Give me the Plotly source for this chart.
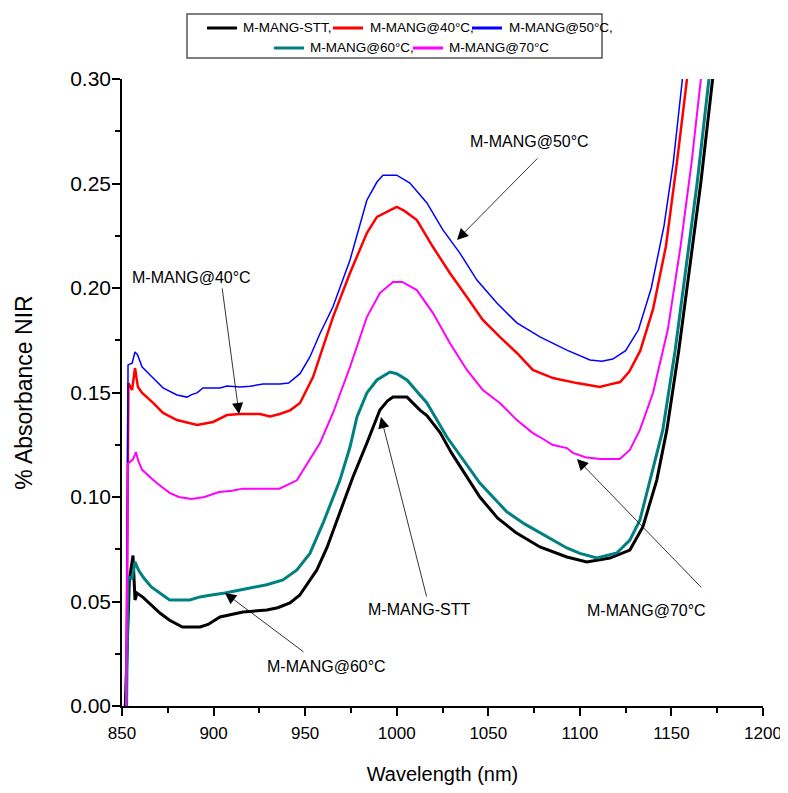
import plotly.graph_objects as go

# ---------------- data ----------------
stt_x = [851.8, 854, 856, 857.1, 858.2, 861.5, 870.7, 876, 883, 892.6, 897, 903.5, 916, 929.1, 935, 941.7,
         947, 952.6, 956.4, 962, 969, 976.1, 983.7, 990.8, 995, 998, 1005.6, 1012.7, 1016.5, 1023.6, 1030,
         1038.3, 1045.4, 1055, 1065, 1078.2, 1092.9, 1103.8, 1116.4, 1127.3, 1134.4, 1142, 1147.5, 1154,
         1160, 1166, 1172.5, 1174]
stt_y = [0.0, 0.060, 0.072, 0.0507, 0.054, 0.052, 0.0445, 0.041, 0.0378, 0.0378, 0.039, 0.0426, 0.045, 0.0459,
         0.047, 0.0493, 0.053, 0.0603, 0.0651, 0.076, 0.0928, 0.1096, 0.1258, 0.1416, 0.146, 0.1478, 0.1478,
         0.1416, 0.139, 0.131, 0.121, 0.1096, 0.100, 0.090, 0.083, 0.0761, 0.0713, 0.0689, 0.0708, 0.0746,
         0.0857, 0.1081, 0.1321, 0.17, 0.21, 0.25, 0.30, 0.315]

c40_x = [852.3, 853.5, 855.5, 857.1, 858.7, 861, 867, 872.4, 880, 891, 899.7, 907.3, 914.4, 925.3, 930.8,
         936.2, 942, 947.2, 954.3, 965.2, 974.5, 983.7, 989.2, 1000, 1004, 1011, 1019.8, 1029, 1038.3, 1047,
         1056.3, 1065.6, 1074.3, 1085.3, 1098.4, 1110.9, 1117, 1122, 1127, 1133, 1140, 1147, 1153, 1158.5, 1160]
c40_y = [0.0, 0.1545, 0.1512, 0.1617, 0.1526, 0.1498, 0.145, 0.1402, 0.1368, 0.1345, 0.1359, 0.1392, 0.1397,
         0.1397, 0.1385, 0.1397, 0.1416, 0.145, 0.1574, 0.1861, 0.2072, 0.2263, 0.234, 0.2388, 0.237, 0.2325,
         0.2196, 0.2072, 0.1957, 0.1847, 0.1766, 0.1689, 0.1608, 0.1569, 0.1545, 0.1526, 0.154, 0.155, 0.16,
         0.17, 0.19, 0.22, 0.26, 0.30, 0.32]

c50_x = [852.3, 853.3, 855.5, 857.1, 858.5, 861, 867, 872.4, 880, 885.5, 888, 891, 894.2, 903.5, 907.3, 914.4,
         920, 927, 936.2, 941, 947.2, 952.6, 958, 965.2, 974.5, 983.7, 989.2, 992.5, 1000, 1007.2, 1016.5,
         1025.2, 1034.5, 1043.8, 1054.7, 1065.6, 1078.2, 1092.9, 1105.5, 1112, 1118, 1125, 1132, 1139, 1146,
         1151, 1156, 1158]
c50_y = [0.0, 0.1632, 0.164, 0.1694, 0.168, 0.1622, 0.1569, 0.1522, 0.1488, 0.1478, 0.149, 0.1498, 0.1522,
         0.1522, 0.1531, 0.1526, 0.153, 0.1541, 0.1541, 0.1545, 0.159, 0.167, 0.178, 0.191, 0.2134, 0.242,
         0.2507, 0.254, 0.254, 0.2502, 0.2407, 0.2278, 0.2167, 0.2038, 0.1928, 0.1833, 0.1766, 0.1703, 0.1656,
         0.165, 0.166, 0.17, 0.18, 0.20, 0.23, 0.26, 0.30, 0.32]

c60_x = [852.5, 853.3, 855.5, 857.1, 859, 861.5, 866, 870.7, 876, 887, 892.6, 898, 906.2, 919.9, 929, 937.9,
         945.5, 952.6, 960, 969, 974.5, 978.3, 983.7, 989.2, 996.3, 1000, 1005.6, 1016.5, 1027.4, 1045.4, 1060,
         1070, 1078.2, 1092.9, 1100, 1109.3, 1120.2, 1127.3, 1132.8, 1138.2, 1145.3, 1152, 1158, 1164, 1170.5,
         1172]
c60_y = [0.0, 0.0617, 0.061, 0.069, 0.065, 0.0617, 0.057, 0.054, 0.0507, 0.0507, 0.0522, 0.053, 0.0541,
         0.0565, 0.058, 0.0603, 0.0651, 0.073, 0.088, 0.1081, 0.1239, 0.1383, 0.1498, 0.156, 0.1598, 0.159,
         0.156, 0.145, 0.1287, 0.1067, 0.093, 0.087, 0.0828, 0.0756, 0.073, 0.0708, 0.0732, 0.0794, 0.089,
         0.1081, 0.1321, 0.17, 0.21, 0.25, 0.30, 0.315]

c70_x = [852.2, 853.3, 856, 857.6, 859, 861, 866, 870, 876, 881, 888, 895, 903, 910, 916, 936, 945.5, 952.6,
         958.1, 965.2, 974.5, 983.7, 990.8, 998, 1003, 1011, 1019.8, 1029, 1038.3, 1047, 1056.3, 1065.6,
         1074.3, 1078.2, 1085, 1092.9, 1096.2, 1103, 1110.9, 1121.8, 1127.3, 1132.8, 1140, 1148, 1155, 1161,
         1166.5, 1168]
c70_y = [0.0, 0.116, 0.118, 0.1215, 0.117, 0.113, 0.109, 0.106, 0.102, 0.100, 0.099, 0.100, 0.1024, 0.103,
         0.104, 0.104, 0.108, 0.1177, 0.1258, 0.1402, 0.1622, 0.1861, 0.1976, 0.2029, 0.2029, 0.199, 0.188,
         0.1737, 0.1608, 0.1512, 0.145, 0.1368, 0.1306, 0.1287, 0.125, 0.1234, 0.1211, 0.119, 0.1182, 0.1182,
         0.1225, 0.1321, 0.15, 0.18, 0.22, 0.26, 0.30, 0.315]

series_names = ["M-MANG-STT", "M-MANG@40°C", "M-MANG@50°C", "M-MANG@60°C", "M-MANG@70°C"]
legend_labels = ["M-MANG-STT,", "M-MANG@40°C,", "M-MANG@50°C,", "M-MANG@60°C,", "M-MANG@70°C"]
x_ticks = [850, 900, 950, 1000, 1050, 1100, 1150, 1200]
y_ticks = [0.00, 0.05, 0.10, 0.15, 0.20, 0.25, 0.30]
y_tick_text = ["0.00", "0.05", "0.10", "0.15", "0.20", "0.25", "0.30"]

# callouts: (text, text_x, text_y, arrow_tail_x, arrow_tail_y, arrow_head_x, arrow_head_y)
callouts = [
    ("M-MANG-STT", 1012, 0.0464, 1016.5, 0.0517, 991.4, 0.1383),
    ("M-MANG@50°C", 1072.7, 0.2699, 1077.6, 0.2627, 1032.9, 0.223),
    ("M-MANG@40°C", 887.7, 0.2048, 904.6, 0.2005, 913.9, 0.1397),
    ("M-MANG@70°C", 1136.6, 0.0459, 1167.1, 0.056, 1098.4, 0.1182),
    ("M-MANG@60°C", 961.4, 0.0187, 949.9, 0.0254, 906.2, 0.0541),
]

# ---------------- styling ----------------
colors = ["#000000", "#FF0000", "#0000FF", "#008080", "#FF00FF"]
widths = [3, 2.5, 1.5, 3, 2]
SANS = "Liberation Sans, Arial, sans-serif"

OFF = 8  # default body margin of the page
W, H = 788 - OFF, 793 - 2 * OFF   # keep the page from overflowing the window
ML, MT = 122 - OFF, 79 - OFF
MR, MB = W - (763 - OFF), H - (706 - OFF)
PW, PH = W - ML - MR, H - MT - MB


def pxx(xp):
    return (xp - OFF - ML) / PW


def pxy(yp):
    return (H - MB - (yp - OFF)) / PH


fig = go.Figure()
xs = [stt_x, c40_x, c50_x, c60_x, c70_x]
ys = [stt_y, c40_y, c50_y, c60_y, c70_y]
for name, x, y, c, w in zip(series_names, xs, ys, colors, widths):
    fig.add_trace(go.Scatter(x=x, y=y, mode="lines", name=name,
                             line=dict(color=c, width=w), showlegend=False))

annotations = []
for text, tx, ty, ax, ay, hx, hy in callouts:
    annotations.append(dict(x=tx, y=ty, xref="x", yref="y", text=text, showarrow=False,
                            font=dict(family=SANS, size=16, color="#000")))
    annotations.append(dict(x=hx, y=hy, xref="x", yref="y", ax=ax, ay=ay, axref="x", ayref="y",
                            text="", showarrow=True, arrowhead=2, arrowsize=2.8, arrowwidth=0.8,
                            arrowcolor="#000", standoff=0, startstandoff=0))

# manual legend (two centred rows inside a framed box)
shapes = [dict(type="rect", xref="paper", yref="paper", x0=pxx(187), x1=pxx(602), y0=pxy(58), y1=pxy(14),
               line=dict(color="#555555", width=1.5), fillcolor="white", layer="above")]
legend_rows = [(28, 207, 241), (28, 333, 368), (28, 472, 507), (48, 274, 308), (48, 413, 447)]
for (row_y, lx0, tx0), lab, c in zip(legend_rows, legend_labels, colors):
    shapes.append(dict(type="line", xref="paper", yref="paper", x0=pxx(lx0), x1=pxx(lx0 + 30),
                       y0=pxy(row_y), y1=pxy(row_y), line=dict(color=c, width=3)))
    annotations.append(dict(x=pxx(tx0), y=pxy(row_y), xref="paper", yref="paper", text=lab,
                            showarrow=False, xanchor="left", yanchor="middle",
                            font=dict(family=SANS, size=13.5, color="#000")))

fig.update_layout(
    width=W, height=H,
    margin=dict(l=ML, r=MR, t=MT, b=MB, autoexpand=False),
    paper_bgcolor="white", plot_bgcolor="white",
    showlegend=False,
    annotations=annotations,
    shapes=shapes,
    xaxis=dict(range=[850, 1200], tickvals=x_ticks, ticks="outside", ticklen=8, tickwidth=1.5,
               tickcolor="#000", showline=True, linecolor="#000", linewidth=1.5, mirror=False,
               showgrid=False, zeroline=False, ticklabelstandoff=3, automargin=False,
               ticklabeloverflow="allow",
               tickfont=dict(family=SANS, size=17, color="#000"),
               minor=dict(dtick=25, tick0=850, ticks="outside", ticklen=5, tickwidth=1.5, tickcolor="#000"),
               title=dict(text="Wavelength (nm)", font=dict(family=SANS, size=20, color="#000"), standoff=25)),
    yaxis=dict(range=[0, 0.30], tickvals=y_ticks, ticktext=y_tick_text, ticks="outside", ticklen=8,
               tickwidth=1.5, tickcolor="#000", showline=True, linecolor="#000", linewidth=1.5,
               mirror=False, showgrid=False, zeroline=False, ticklabelstandoff=-3, automargin=False,
               tickfont=dict(family=SANS, size=21, color="#000"),
               minor=dict(dtick=0.025, tick0=0, ticks="outside", ticklen=5, tickwidth=1.5, tickcolor="#000"),
               title=dict(text="% Absorbance NIR", font=dict(family=SANS, size=23, color="#000"), standoff=31)),
)

fig.write_html("out.html")
